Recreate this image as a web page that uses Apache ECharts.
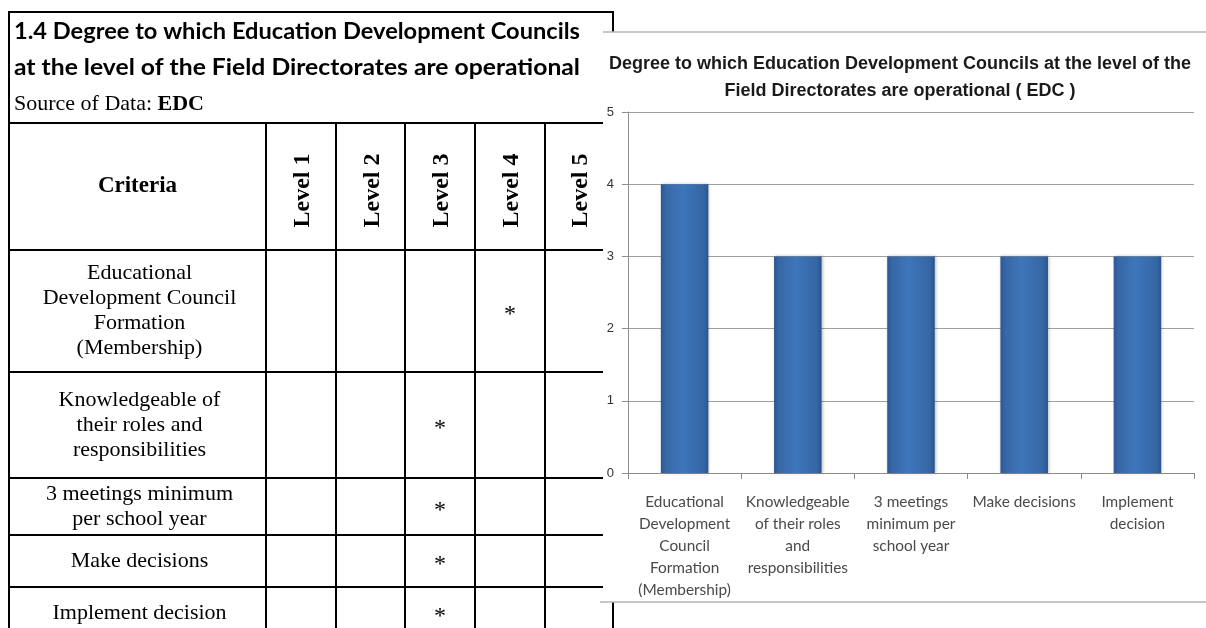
<!DOCTYPE html>
<html>
<head>
<meta charset="utf-8">
<title>Education Development Councils – operational level</title>
<script src="https://cdn.jsdelivr.net/npm/echarts@6/dist/echarts.min.js"></script>
<style>
  html, body { margin: 0; padding: 0; background: #ffffff; }
  #main { width: 1206px; height: 628px; }
</style>
</head>
<body>
<div id="main"></div>
<script>
// ---- data ----
const criteria = [
  'Educational Development Council Formation (Membership)',
  'Knowledgeable of their roles and responsibilities',
  '3 meetings minimum per school year',
  'Make decisions',
  'Implement decision'
];
const levelValues = [4, 3, 3, 3, 3];
const levelNames = ['Level 1', 'Level 2', 'Level 3', 'Level 4', 'Level 5'];
const tableRowLines = [
  ['Educational', 'Development Council', 'Formation', '(Membership)'],
  ['Knowledgeable of', 'their roles and', 'responsibilities'],
  ['3 meetings minimum', 'per school year'],
  ['Make decisions'],
  ['Implement decision']
];
const axisLabelLines = [
  ['Educational', 'Development', 'Council', 'Formation', '(Membership)'],
  ['Knowledgeable', 'of their roles', 'and', 'responsibilities'],
  ['3 meetings', 'minimum per', 'school year'],
  ['Make decisions'],
  ['Implement', 'decision']
];
const yTicks = [0, 1, 2, 3, 4, 5];
const tableTitle = [
  '1.4 Degree to which Education Development Councils',
  'at the level of the Field Directorates are operational'
];
const sourceLabel = 'Source of Data: ';
const sourceName = 'EDC';
const criteriaHeader = 'Criteria';
const chartTitle = [
  'Degree to which Education Development Councils at the level of the',
  'Field Directorates are operational ( EDC )'
];

// ---- font sizing helpers ----
const measureCtx = document.createElement('canvas').getContext('2d');
function textWidth(text, weight, size, family) {
  measureCtx.font = weight + ' ' + size + 'px ' + family;
  return measureCtx.measureText(text).width;
}
function fitSize(text, weight, family, targetWidth) {
  return 100 * targetWidth / textWidth(text, weight, 100, family);
}

const SANS = 'Lato, "Open Sans", sans-serif';
const SERIF = '"Liberation Serif", "DejaVu Serif", serif';
const ARIAL = '"Liberation Sans", Arial, sans-serif';

const titleSize = fitSize(tableTitle[0], 'bold', SANS, 564);
const cellSize = Math.min(22, fitSize('Development Council', 'normal', SERIF, 222));
// narrow bold title: a regular bold face squeezed horizontally
const chartTitleSize = 17.5;
const chartTitleScale = 582 / textWidth(chartTitle[0], 'bold', chartTitleSize, ARIAL);
const xLabelSize = fitSize('Knowledgeable', 'normal', SANS, 104);

// ---- table layout ----
const tLeft = 9, tRight = 613, tTop = 12, titleBottom = 123, headerBottom = 250;
const rowBottoms = [372, 478, 535, 587, 640];
const colX = [9, 266, 336, 405, 475, 545, 613];

const G = [];
function addLine(x1, y1, x2, y2, stroke, w, z) {
  G.push({ type: 'line', z: z, silent: true,
    shape: { x1: x1, y1: y1, x2: x2, y2: y2 },
    style: { stroke: stroke, lineWidth: w } });
}
function addText(x, y, str, style, extra) {
  const st = Object.assign({
    text: str, fill: '#000',
    textAlign: 'center', textVerticalAlign: 'middle',
    align: 'center', verticalAlign: 'middle'
  }, style);
  G.push(Object.assign({ type: 'text', z: 1, silent: true, x: x, y: y, style: st }, extra || {}));
}

// table rules
addLine(tLeft, tTop - 1, tLeft, 628, '#000', 2, 0);
addLine(tLeft - 1, tTop, tRight + 1, tTop, '#000', 2, 0);
addLine(tRight, tTop - 1, tRight, 628, '#000', 2, 0);
addLine(tLeft, titleBottom, tRight, titleBottom, '#000', 2, 0);
addLine(tLeft, headerBottom, tRight, headerBottom, '#000', 2, 0);
rowBottoms.forEach(function (y) { addLine(tLeft, y, tRight, y, '#000', 2, 0); });
colX.slice(1, -1).forEach(function (x) { addLine(x, titleBottom, x, 628, '#000', 2, 0); });

// title block, each line stretched to the box width
[31, 67].forEach(function (y, i) {
  const w = textWidth(tableTitle[i], 'bold', titleSize, SANS);
  addText(14, y, tableTitle[i], { fontFamily: SANS, fontWeight: 'bold', fontSize: titleSize,
    textAlign: 'left', align: 'left' }, { scaleX: 566 / w });
});
addText(14, 104, sourceLabel + '{b|' + sourceName + '}', {
  fontFamily: SERIF, fontSize: 22, textAlign: 'left', align: 'left',
  rich: { b: { fontFamily: SERIF, fontSize: 22, fontWeight: 'bold' } }
});

// header row
const headerMid = (titleBottom + headerBottom) / 2;
addText((colX[0] + colX[1]) / 2, headerMid, criteriaHeader,
  { fontFamily: SERIF, fontWeight: 'bold', fontSize: cellSize + 1 });
levelNames.forEach(function (name, i) {
  addText((colX[i + 1] + colX[i + 2]) / 2 + 2, headerMid + 4, name,
    { fontFamily: SERIF, fontWeight: 'bold', fontSize: cellSize + 2 },
    { rotation: Math.PI / 2 });
});

// body rows: criterion text and a star in the level column reached
tableRowLines.forEach(function (lines, r) {
  const top = r === 0 ? headerBottom : rowBottoms[r - 1];
  const mid = (top + rowBottoms[r]) / 2;
  const yMid = r === 4 ? 613 : mid;
  addText((colX[0] + colX[1]) / 2 + 2, yMid, lines.join('\n'),
    { fontFamily: SERIF, fontSize: cellSize, lineHeight: 25 });
  const c = levelValues[r];
  addText((colX[c] + colX[c + 1]) / 2, yMid + 4, '*',
    { fontFamily: SERIF, fontSize: cellSize + 2 });
});

// chart panel laid over the right edge of the table
const panel = { x: 603, y: 32, w: 603, h: 570 };
G.push({ type: 'rect', z: 5, silent: true,
  shape: { x: panel.x, y: panel.y, width: panel.w, height: panel.h },
  style: { fill: '#ffffff' } });
addLine(panel.x, panel.y, 1206, panel.y, '#b4b4b4', 1.5, 6);
addLine(600, panel.y + panel.h, 1206, panel.y + panel.h, '#b4b4b4', 1.5, 6);

// chart title
[64, 91].forEach(function (y, i) {
  addText(900, y, chartTitle[i], { fontFamily: ARIAL, fontWeight: 'bold', fontSize: chartTitleSize, fill: '#1a1a1a' },
    { z: 12, scaleX: chartTitleScale });
});

const barFill = new echarts.graphic.LinearGradient(0, 0, 1, 0, [
  { offset: 0, color: '#2c5893' },
  { offset: 0.1, color: '#3767a6' },
  { offset: 0.45, color: '#3e76ba' },
  { offset: 0.9, color: '#3566a5' },
  { offset: 1, color: '#2a548c' }
]);

const chart = echarts.init(document.getElementById('main'), null, { renderer: 'canvas' });
chart.setOption({
  animation: false,
  backgroundColor: '#ffffff',
  graphic: { elements: G },
  grid: { left: 628, right: 12, top: 112, bottom: 155, containLabel: false },
  xAxis: {
    type: 'category',
    data: criteria,
    z: 10,
    axisLine: { lineStyle: { color: '#8c8c8c', width: 1 } },
    axisTick: { show: true, length: 6, lineStyle: { color: '#8c8c8c' } },
    axisLabel: {
      interval: 0,
      margin: 18,
      fontFamily: SANS,
      fontSize: xLabelSize,
      lineHeight: 22,
      color: '#4a4a4a',
      formatter: function (v, idx) { return axisLabelLines[idx].join('\n'); }
    }
  },
  yAxis: {
    type: 'value',
    min: yTicks[0],
    max: yTicks[yTicks.length - 1],
    interval: yTicks[1] - yTicks[0],
    z: 10,
    axisLine: { show: true, lineStyle: { color: '#8c8c8c' } },
    axisTick: { show: true, length: 6, lineStyle: { color: '#8c8c8c' } },
    splitLine: { lineStyle: { color: '#a0a0a0', width: 1 } },
    axisLabel: { margin: 14, fontFamily: ARIAL, fontSize: 13, color: '#333' }
  },
  series: [{
    type: 'bar',
    data: levelValues,
    barWidth: '42%',
    z: 11,
    itemStyle: {
      color: barFill,
      shadowColor: 'rgba(0,0,0,0.25)',
      shadowBlur: 3,
      shadowOffsetX: 1
    }
  }]
});
</script>
</body>
</html>
